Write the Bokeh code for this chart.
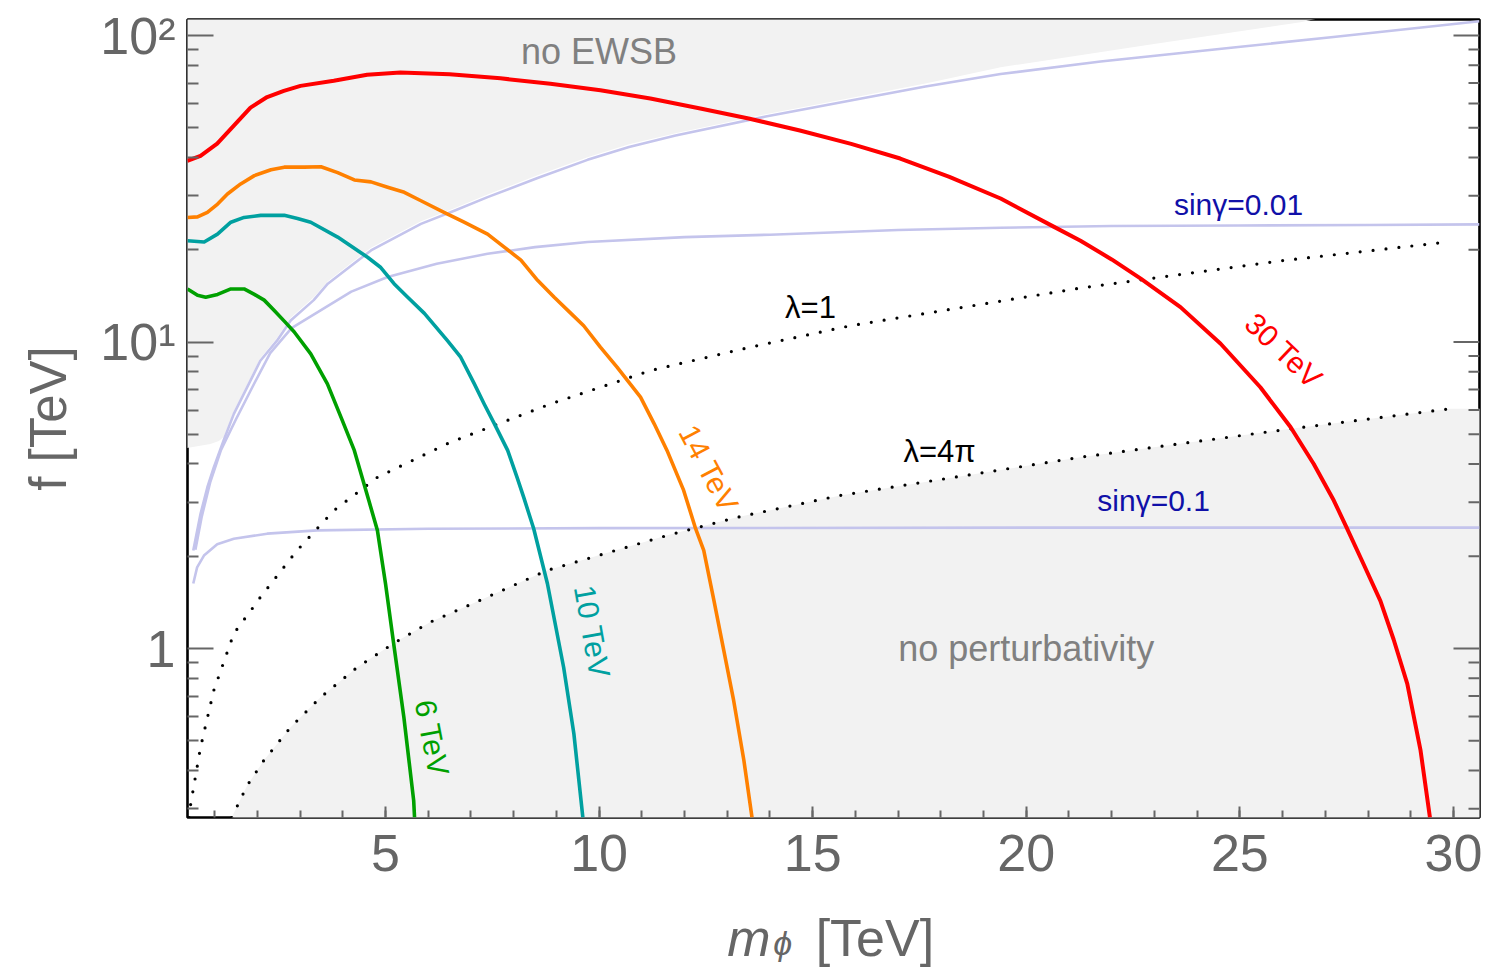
from bokeh.plotting import figure
from bokeh.models import Range1d, FixedTicker
from bokeh.layouts import column
from bokeh.embed import file_html
from bokeh.resources import INLINE
from bokeh.core.properties import value

FONT = "Liberation Sans"
GRAY_TXT = "#666666"

# ---------------- data ----------------
X_RANGE = (0.365, 30.61)
Y_RANGE = (0.281, 112.8)

x_major = [5, 10, 15, 20, 25, 30]
x_minor = list(range(1, 31))
y_major = [1, 10, 100]
y_minor = [0.3, 0.4, 0.5, 0.6, 0.7, 0.8, 0.9, 2, 3, 4, 5, 6, 7, 8, 9,
           20, 30, 40, 50, 60, 70, 80, 90]
y_labels = {1: "1", 10: "10\u00b9", 100: "10\u00b2"}

# 30 TeV contour
red_x = [0.36, 0.67, 1.06, 1.45, 1.84, 2.23, 2.62, 3.01, 3.79, 4.57, 5.35, 6.5, 7.69,
         8.86, 10.03, 11.2, 12.37, 13.5, 14.7, 15.9, 17.05, 18.2, 19.4, 20.64, 21.27,
         22.0, 22.68, 23.61, 24.55, 25.48, 26.19, 26.73, 27.2, 27.5, 27.9, 28.29, 28.6,
         28.92, 29.23, 29.45]
red_f = [39.0, 40.5, 44.4, 50.8, 58.2, 63.0, 66.0, 68.5, 71.2, 74.5, 75.7, 74.8, 72.5,
         69.6, 66.3, 62.3, 57.8, 53.6, 49.0, 44.3, 39.7, 34.6, 29.4, 23.8, 21.4,
         18.6, 16.1, 13.0, 9.87, 7.12, 5.27, 4.0, 3.04, 2.48, 1.88, 1.43, 1.07,
         0.767, 0.465, 0.281]

# 14 TeV contour
orange_x = [0.365, 0.60, 0.83, 1.07, 1.30, 1.61, 1.93, 2.32, 2.63, 3.10, 3.49, 3.88,
            4.27, 4.66, 5.05, 5.44, 5.83, 6.37, 6.84, 7.39, 7.78, 8.17, 8.56, 8.95,
            9.34, 9.64, 10.03, 10.42, 10.97, 11.29, 11.59, 11.98, 12.26, 12.45, 12.69,
            12.92, 13.15, 13.39, 13.58]
orange_f = [25.5, 25.6, 26.5, 28.2, 30.4, 32.8, 34.9, 36.5, 37.2, 37.2, 37.3, 35.7,
            33.8, 33.3, 32.0, 30.8, 28.9, 26.5, 24.6, 22.5, 20.4, 18.5, 15.9, 14.0,
            12.4, 11.3, 9.62, 8.28, 6.61, 5.41, 4.43, 3.28, 2.46, 2.09, 1.43,
            0.985, 0.677, 0.431, 0.281]

# 10 TeV contour
teal_x = [0.365, 0.755, 1.067, 1.38, 1.69, 2.08, 2.63, 2.94, 3.25, 3.88, 4.58, 4.89,
          5.20, 5.52, 5.91, 6.45, 6.76, 7.08, 7.31, 7.55, 7.86, 8.08, 8.24, 8.47,
          8.79, 9.17, 9.41, 9.62]
teal_f = [21.4, 21.2, 22.5, 24.6, 25.5, 25.9, 25.9, 25.3, 24.6, 22.0, 18.9, 17.5,
          15.5, 14.0, 12.4, 10.1, 8.92, 7.3, 6.28, 5.41, 4.43, 3.62, 3.1, 2.46,
          1.63, 0.869, 0.527, 0.281]

# 6 TeV contour
green_x = [0.365, 0.60, 0.79, 1.07, 1.38, 1.69, 1.93, 2.16, 2.39, 2.63, 2.86, 3.25,
           3.64, 3.96, 4.27, 4.61, 4.81, 5.0, 5.19, 5.43, 5.66, 5.68]
green_f = [14.9, 14.2, 14.0, 14.3, 14.9, 14.9, 14.3, 13.7, 12.7, 11.7, 10.8, 9.15,
           7.3, 5.68, 4.43, 3.04, 2.43, 1.63, 1.04, 0.597, 0.319, 0.281]

# light blue sin(gamma) curves
blue_top_x = [0.50, 0.67, 0.83, 0.98, 1.21, 1.45, 1.76, 2.07, 2.46, 2.78, 3.32, 3.65,
              4.66, 5.83, 6.61, 7.39, 8.56, 9.73, 10.7, 11.79, 13.90, 15.89, 17.64,
              19.40, 21.74, 24.85, 27.19, 30.61]
blue_top_f = [2.09, 2.75, 3.36, 3.9, 4.77, 5.83, 7.11, 8.69, 10.1, 11.75, 13.7, 15.5,
              19.9, 24.3, 26.8, 29.7, 34.3, 39.3, 43.3, 47.2, 54.4, 61.4, 68.2,
              74.9, 82.3, 91.4, 98.9, 111.3]
sin001_x = [0.55, 0.7, 0.9, 1.15, 1.5, 1.9, 2.3, 2.8, 3.49, 4.2, 5.05, 6.2, 7.39, 8.5,
            9.73, 12.0, 14.0, 17.0, 19.4, 22.0, 25.0, 28.0, 30.61]
sin001_f = [2.1, 2.7, 3.5, 4.45, 5.6, 7.2, 9.2, 11.1, 12.7, 14.6, 16.3, 18.0, 19.4, 20.4,
            21.2, 22.0, 22.4, 23.2, 23.6, 23.9, 24.0, 24.1, 24.2]
sin01_x = [0.50, 0.59, 0.75, 1.06, 1.45, 2.23, 3.40, 6.0, 10.0, 20.0, 30.61]
sin01_f = [1.63, 1.84, 2.01, 2.19, 2.28, 2.37, 2.43, 2.46, 2.47, 2.48, 2.48]

# dotted lambda curves
lam1_x = [0.40, 0.44, 0.67, 0.98, 1.45, 1.88, 2.07, 2.93, 3.79, 4.81, 6.52, 8.86, 11.2,
          13.54, 15.88, 21.27, 25.95, 29.85]
lam1_f = [0.281, 0.311, 0.476, 0.73, 1.12, 1.35, 1.47, 2.09, 2.82, 3.62, 4.71, 6.28, 8.07,
          9.62, 11.3, 15.0, 18.4, 21.2]
lam4pi_x = [1.40, 1.76, 2.15, 2.78, 3.48, 4.34, 5.19, 6.05, 7.03, 8.79, 11.6, 13.23,
            15.65, 21.27, 26.19, 29.93]
lam4pi_f = [0.281, 0.357, 0.431, 0.554, 0.693, 0.869, 1.04, 1.22, 1.40, 1.80, 2.34, 2.68,
            3.16, 4.21, 5.21, 6.06]

# shaded region boundaries
ewsb_x = [0.30, 0.9, 1.1, 1.21, 1.45, 1.76, 2.07, 2.46, 2.78, 3.32, 3.65, 4.66, 5.83,
          6.61, 7.39, 8.56, 9.73, 10.7, 11.79, 13.90, 15.89, 17.64, 19.40, 22.91, 26.42,
          27.12]
ewsb_f = [4.5, 4.65, 4.75, 4.9, 5.95, 7.25, 8.85, 10.3, 12.0, 14.0, 15.8, 20.3, 24.8,
          27.3, 30.3, 35.0, 40.1, 44.2, 48.0, 55.4, 62.6, 69.8, 78.8, 93.5, 110.5, 116.0]
pert_x = lam4pi_x + [30.8]
pert_f = lam4pi_f + [6.06]

# annotations
lab_text = ["no EWSB", "no perturbativity"]
lab_x = [10.0, 20.0]
lab_f = [89.0, 1.0]

blue_text = ["sin\u03b3=0.01", "sin\u03b3=0.1"]
blue_tx = [24.97, 22.98]
blue_tf = [28.1, 3.04]

lam_text = ["\u03bb=1", "\u03bb=4\u03c0"]
lam_tx = [14.95, 17.97]
lam_tf = [12.96, 4.39]

curve_text = ["30 TeV", "14 TeV", "10 TeV", "6 TeV"]
curve_tx = [26.03, 12.57, 9.84, 6.09]
curve_tf = [9.38, 3.87, 1.136, 0.511]
curve_angle = [-43.5, -62.0, -80.0, -79.0]
curve_color = ["#ff0000", "#ff8000", "#00a0a0", "#00a000"]

# x-axis title pieces: x in m_phi units, y in pixels from the strip's top
xt_text = ["m", "\u03d5", "[TeV]"]
xt_left = [13.0, 14.08, 15.07]
xt_base = [37, 42, 37]

# ---------------- main figure ----------------
MAIN_H = 900
STRIP_H = 67
p = figure(width=1496, height=MAIN_H,
           x_range=Range1d(*X_RANGE), y_range=Range1d(*Y_RANGE),
           y_axis_type="log", output_backend="svg", toolbar_location=None,
           min_border_left=187, min_border_right=17, min_border_top=19,
           min_border_bottom=MAIN_H - 817, title=None,
           background_fill_color="white", border_fill_color="white")
p.xgrid.visible = False
p.ygrid.visible = False
p.outline_line_color = "black"
p.outline_line_width = 2.6
p.outline_line_alpha = 1.0


def style_axis(ax, major_in, minor_in):
    ax.axis_line_color = None
    ax.major_tick_in = major_in
    ax.major_tick_out = 0
    ax.minor_tick_in = minor_in
    ax.minor_tick_out = 0
    ax.major_tick_line_color = GRAY_TXT
    ax.minor_tick_line_color = GRAY_TXT
    ax.major_tick_line_width = 2
    ax.minor_tick_line_width = 2
    ax.major_label_text_font = FONT
    ax.major_label_text_color = GRAY_TXT


xb = p.xaxis[0]
xb.ticker = FixedTicker(ticks=x_major, minor_ticks=x_minor)
style_axis(xb, 11, 7)
xb.major_label_text_font_size = "52px"
xb.major_label_standoff = 17

yl = p.yaxis[0]
yl.ticker = FixedTicker(ticks=y_major, minor_ticks=y_minor)
style_axis(yl, 26, 11)
yl.major_label_overrides = y_labels
yl.major_label_text_font_size = "52px"
yl.major_label_standoff = 12
yl.axis_label = "f [TeV]"
yl.axis_label_text_font = FONT
yl.axis_label_text_font_size = "51px"
yl.axis_label_text_font_style = "normal"
yl.axis_label_text_color = GRAY_TXT
yl.axis_label_standoff = 20

# shaded regions
top_f = Y_RANGE[1] * 1.3
bot_f = Y_RANGE[0] * 0.8
p.patch(ewsb_x + [ewsb_x[-1], ewsb_x[0]], ewsb_f + [top_f, top_f],
        fill_color="#f2f2f2", line_color=None)
p.patch(pert_x + [pert_x[-1], pert_x[0]], pert_f + [bot_f, bot_f],
        fill_color="#f2f2f2", line_color=None)

# right-hand frame ticks (inward)
p.ray(x=[X_RANGE[1]] * len(y_major), y=y_major, length=26, length_units="screen",
      angle=180, angle_units="deg", line_color=GRAY_TXT, line_width=2)
p.ray(x=[X_RANGE[1]] * len(y_minor), y=y_minor, length=11, length_units="screen",
      angle=180, angle_units="deg", line_color=GRAY_TXT, line_width=2)

# light blue curves
for xs, fs in [(blue_top_x, blue_top_f), (sin001_x, sin001_f), (sin01_x, sin01_f)]:
    p.line(xs, fs, line_color="#c4c4ec", line_width=2.6, line_join="round")

# dotted lambda curves
for xs, fs in [(lam1_x, lam1_f), (lam4pi_x, lam4pi_f)]:
    p.line(xs, fs, line_color="black", line_width=3.2, line_dash="0 13",
           line_cap="round")

# mass contours
for xs, fs, c, w in [(green_x, green_f, "#00a000", 3.6), (teal_x, teal_f, "#00a0a0", 3.6),
                     (orange_x, orange_f, "#ff8000", 3.6), (red_x, red_f, "#ff0000", 4.0)]:
    p.line(xs, fs, line_color=c, line_width=w, line_join="round")

# texts
p.text(lab_x, lab_f, text=lab_text, text_color="#808080", text_font=value(FONT),
       text_font_size="36px", text_align="center", text_baseline="middle")
p.text(blue_tx, blue_tf, text=blue_text, text_color="#1010a8", text_font=value(FONT),
       text_font_size="30px", text_align="center", text_baseline="middle")
p.text(lam_tx, lam_tf, text=lam_text, text_color="black", text_font=value(FONT),
       text_font_size="31px", text_align="center", text_baseline="middle")
p.text(curve_tx, curve_tf, text=curve_text, text_color=curve_color, angle=curve_angle,
       angle_units="deg", text_font=value(FONT), text_font_size="30px",
       text_align="center", text_baseline="middle")

# ---------------- strip with the x-axis title ----------------
s = figure(width=1496, height=STRIP_H, x_range=Range1d(*X_RANGE),
           y_range=Range1d(STRIP_H, 0), output_backend="svg", toolbar_location=None,
           x_axis_location=None, y_axis_location=None, title=None,
           min_border_left=187, min_border_right=17, min_border_top=0,
           min_border_bottom=0,
           outline_line_color=None, background_fill_color="white",
           border_fill_color="white")
s.grid.visible = False
s.text([xt_left[0]], [xt_base[0]], text=[xt_text[0]], text_color=GRAY_TXT,
       text_font=value(FONT), text_font_size="52px", text_font_style="italic",
       text_align="left", text_baseline="alphabetic")
s.text([xt_left[1]], [xt_base[1]], text=[xt_text[1]], text_color=GRAY_TXT,
       text_font=value(FONT), text_font_size="34px", text_font_style="italic",
       text_align="left", text_baseline="alphabetic")
s.text([xt_left[2]], [xt_base[2]], text=[xt_text[2]], text_color=GRAY_TXT,
       text_font=value(FONT), text_font_size="52px",
       text_align="left", text_baseline="alphabetic")

layout = column(p, s, spacing=0)
open("out.html", "w").write(file_html(layout, INLINE))
